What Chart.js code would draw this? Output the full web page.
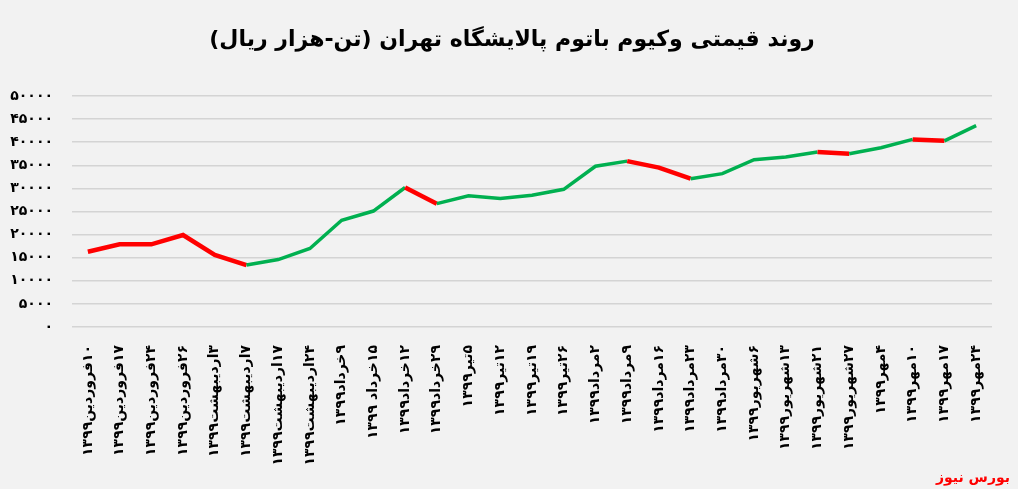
<!DOCTYPE html>
<html lang="fa">
<head>
<meta charset="utf-8">
<script src="https://cdn.jsdelivr.net/npm/chart.js@4.4.1/dist/chart.umd.min.js"></script>
<style>
  html, body { margin: 0; padding: 0; background: #f2f2f2; }
  #wrap { position: relative; width: 1018px; height: 489px; background: #f2f2f2; overflow: hidden; }
  #title { position: absolute; left: 0; right: 0; top: 26px; text-align: center; direction: rtl;
           font: bold 22px 'DejaVu Sans', sans-serif; color: #000; padding-left: 6px; }
  #source { position: absolute; right: 8px; bottom: 4px; color: #ff0000; font: bold 14px 'DejaVu Sans', sans-serif; direction: rtl; }
</style>
</head>
<body>
<div id="wrap">
  <canvas id="myChart" dir="rtl"></canvas>
  <div id="title">روند قیمتی وکیوم باتوم پالایشگاه تهران (تن-هزار ریال)</div>
  <div id="source">بورس نیوز</div>
</div>
<script>
// setup
const dates = [
  '۱۰فروردین۱۳۹۹', '۱۷فروردین۱۳۹۹', '۲۴فروردین۱۳۹۹', '۲۶فروردین۱۳۹۹',
  '۳اردیبهشت۱۳۹۹', '۷اردیبهشت۱۳۹۹', '۱۷اردیبهشت۱۳۹۹', '۲۴اردیبهشت۱۳۹۹',
  '۹خرداد۱۳۹۹', '۱۵خرداد ۱۳۹۹', '۱۲خرداد۱۳۹۹', '۲۹خرداد۱۳۹۹',
  '۵تیر۱۳۹۹', '۱۲تیر۱۳۹۹', '۱۹تیر۱۳۹۹', '۲۶تیر۱۳۹۹',
  '۲مرداد۱۳۹۹', '۹مرداد۱۳۹۹', '۱۶مرداد۱۳۹۹', '۲۳مرداد۱۳۹۹', '۳۰مرداد۱۳۹۹',
  '۶شهریور۱۳۹۹', '۱۳شهریور۱۳۹۹', '۲۱شهریور۱۳۹۹', '۲۷شهریور۱۳۹۹',
  '۴مهر۱۳۹۹', '۱۰مهر۱۳۹۹', '۱۷مهر۱۳۹۹', '۲۴مهر۱۳۹۹'
];
const prices = [
  16300, 17900, 17900, 19900, 15600, 13400, 14600, 17000,
  23100, 25100, 30200, 26700, 28400, 27800, 28500, 29800,
  34800, 35900, 34500, 32100, 33200, 36200, 36800, 37900,
  37500, 38800, 40600, 40300, 43600
];
// segments (by start index) drawn in red
const redSegments = [0, 1, 2, 3, 4, 10, 17, 18, 23, 26];
const yTicks = [0, 5000, 10000, 15000, 20000, 25000, 30000, 35000, 40000, 45000, 50000];

const faDigits = '۰۱۲۳۴۵۶۷۸۹';
const toFa = n => String(n).replace(/\d/g, d => faDigits[d]);

const data = {
  labels: dates,
  datasets: [{
    label: 'قیمت',
    data: prices,
    borderColor: '#00b050',
    borderWidth: 4,
    pointRadius: 0,
    tension: 0,
    segment: {
      borderColor: ctx => redSegments.includes(ctx.p0DataIndex) ? '#ff0000' : '#00b050',
      borderWidth: ctx => redSegments.includes(ctx.p0DataIndex) ? 4.5 : 3.5
    }
  }]
};

// config
const config = {
  type: 'line',
  data,
  options: {
    responsive: true,
    maintainAspectRatio: false,
    animation: false,
    layout: { padding: { left: 0, right: 26, top: 96, bottom: 0 } },
    plugins: {
      legend: { display: false },
      tooltip: { enabled: false },
      title: { display: false }
    },
    scales: {
      x: {
        offset: true,
        grid: { display: false },
        border: { display: false },
        ticks: {
          autoSkip: false,
          maxRotation: 90,
          minRotation: 90,
          padding: 10,
          color: '#000',
          font: { family: "'DejaVu Sans'", size: 14, weight: 'bold' }
        },
        afterFit: scale => { scale.height = 162; }
      },
      y: {
        min: 0,
        max: 50000,
        afterBuildTicks: scale => { scale.ticks = yTicks.map(v => ({ value: v })); },
        grid: { color: '#d4d4d4', lineWidth: 1.5, drawTicks: false },
        border: { display: false },
        ticks: {
          padding: 19,
          color: '#000',
          font: { family: "'DejaVu Sans'", size: 14, weight: 'bold' },
          callback: v => toFa(v)
        },
        afterFit: scale => { scale.width = 72; }
      }
    }
  }
};

// render init block
const myChart = new Chart(
  document.getElementById('myChart'),
  config
);
</script>
</body>
</html>
